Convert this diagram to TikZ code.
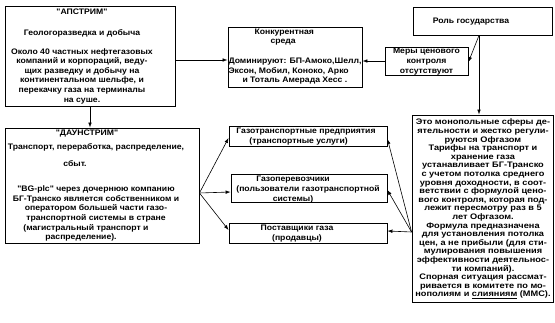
\documentclass[tikz,border=0pt]{standalone}
\usepackage{fontspec}
\setmainfont{Liberation Sans}
\newfontfamily\wideA[FakeStretch=1.08]{Liberation Sans}
\newfontfamily\wideB[FakeStretch=1.15]{Liberation Sans}
\usetikzlibrary{arrows.meta}
\newcommand\dgfont{\wideA\fontsize{8}{9.6}\selectfont\bfseries}
\newcommand\dgmono{\wideB\fontsize{8}{8.6}\selectfont\bfseries}
\begin{document}
\begin{tikzpicture}[x=1pt,y=-1pt,
  box/.style={draw, line width=0.9pt, inner sep=0pt},
  txt/.style={inner sep=0pt, font=\dgfont, align=center},
  arr/.style={-{Latex[length=5pt,width=3.6pt]}, line width=0.6pt}]
\useasboundingbox (0,0) rectangle (555,323);
% boxes
\node[box, minimum width=170pt, minimum height=100pt] (up) at (90,56) {};
\node[box, minimum width=134pt, minimum height=60pt] (kc) at (295,57) {};
\node[box, minimum width=139pt, minimum height=28pt] (role) at (482.5,21) {};
\node[box, minimum width=83pt, minimum height=28pt] (mery) at (426.5,61) {};
\node[box, minimum width=194pt, minimum height=115pt] (dn) at (102,185.5) {};
\node[box, minimum width=158pt, minimum height=20pt] (gt) at (308,136) {};
\node[box, minimum width=156pt, minimum height=28pt] (gp) at (309,188) {};
\node[box, minimum width=158pt, minimum height=20pt] (ps) at (308,233) {};
\node[box, minimum width=141pt, minimum height=187pt] (mono) at (482.5,208.5) {};
% texts
\node[txt] (upT) at (82,56.5) {"АПСТРИМ"\\[11pt] Геологоразведка и добыча\\[9pt] Около 40 частных нефтегазовых\\ компаний  и корпораций, веду-\\ щих разведку и добычу на\\ континентальном шельфе, и\\ перекачку газа на терминалы\\ на суше.};
\node[txt, align=left] (kcT) at (295,56.5) {\hspace*{26pt}Конкурентная\\ \hspace*{42pt}среда\\[10pt] Доминируют: БП-Амоко,Шелл,\\ Эксон, Мобил, Коноко, Арко\\ \hspace*{14pt}и Тоталь Амерада Хесс .};
\node[txt] (roleT) at (471,22) {Роль государства};
\node[txt] (meryT) at (426.5,61.5) {Меры ценового\\ контроля\\ отсутствуют};
\node[txt] (dnT) at (96,185.5) {\hspace*{-18pt}"ДАУНСТРИМ"\\[5pt] Транспорт, переработка, распределение,\\[6.6pt] \hspace*{-42pt}сбыт.\\[16pt] "BG-plc" через дочернюю компанию\\ БГ-Транско является собственником и\\ оператором большей части газо-\\ транспортной системы в стране\\ \hspace*{-20pt}(магистральный транспорт и\\ \hspace*{-30pt}распределение).};
\node[txt, align=left] (gtT) at (306,136.5) {Газотранспортные предприятия\\ \hspace*{13pt}(транспортные услуги)};
\node[txt] (gpT) at (308,189.5) {\hspace*{-30pt}Газоперевозчики\\ (пользователи газотранспортной\\ \hspace*{-30pt}системы)};
\node[txt] (psT) at (297,233.5) {Поставщики газа\\ (продавцы)};
\node[txt, font=\dgmono] (monoT) at (483,209) {Это монопольные сферы де-\\ ятельности и жестко регули-\\ руются Офгазом\\ Тарифы на транспорт и\\ хранение газа\\ устанавливает БГ-Транско\\ с учетом потолка среднего\\ уровня доходности, в соот-\\ ветствии с формулой цено-\\ вого контроля, которая под-\\ лежит пересмотру раз в 5\\ лет Офгазом.\\ Формула предназначена\\ для установления потолка\\ цен, а не прибыли (для сти-\\ мулирования повышения\\ эффективности деятельнос-\\ ти компаний).\\ Спорная ситуация рассмат-\\ ривается в комитете по мо-\\ нополиям и \underline{слияниям} (ММС).};
% connectors
\draw[arr] (up.east |- 0,60) -- (kc.west |- 0,60);
\draw[arr] (up.south) -- (up.south |- dn.north);
\coordinate (rb) at (role.south -| 479,0);
\draw[arr] (rb) -- (mery.east |- 0,62);
\draw[arr] (mery.west) -- (mery.west -| kc.east);
\draw[arr] (rb) -- (rb |- mono.north);
\coordinate (ds) at (dn.east |- 0,193);
\draw[arr] (ds) -- (gt.west |- 0,138);
\draw[arr] (ds) -- (gp.west |- 0,192);
\draw[arr] (ds) -- (ps.west |- 0,230);
\coordinate (ms) at (mono.west |- 0,232);
\draw[arr] (ms) -- (gt.east |- 0,139);
\draw[arr] (ms) -- (gp.east |- 0,190);
\draw[arr] (ms) -- (ps.east |- 0,231);
\end{tikzpicture}
\end{document}
